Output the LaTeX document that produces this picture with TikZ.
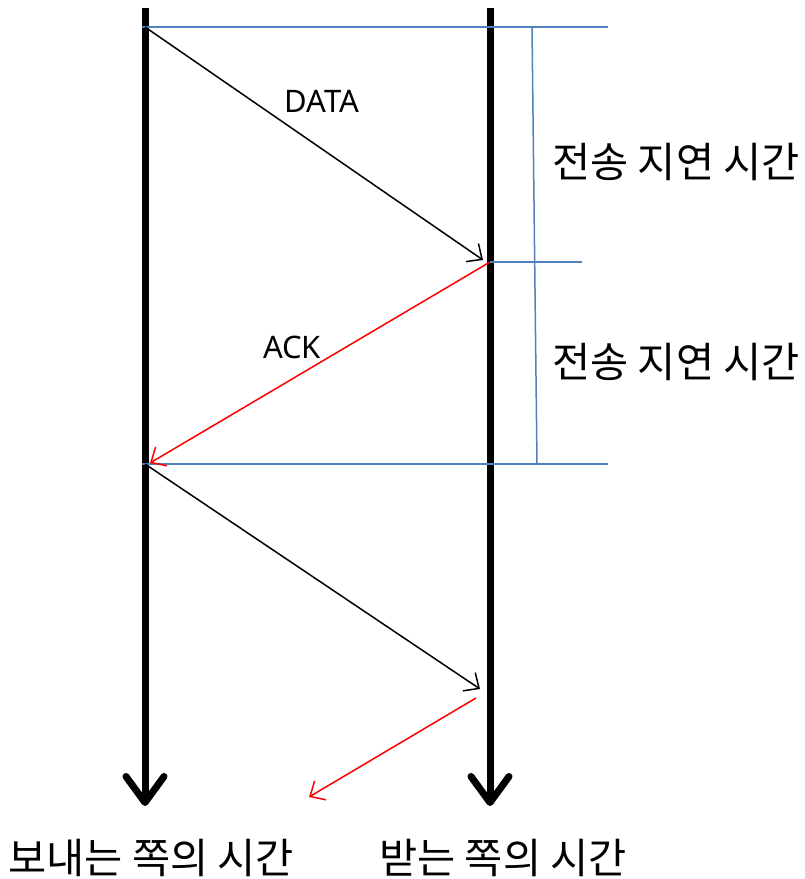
\documentclass[tikz,border=0pt]{standalone}
\usepackage{fontspec}
\setmainfont{Noto Sans}
\newfontfamily\kr{Noto Sans CJK KR}
\usetikzlibrary{arrows.meta}
\begin{document}
\begin{tikzpicture}[x=1pt,y=-1pt,
  timeline/.style={line width=7pt,-{Straight Barb[length=26pt,width=38pt,line cap=round,line join=round]}},
  msg/.style={line width=1.5pt,-{Straight Barb[length=12pt,width=22pt]}},
  guide/.style={line width=1.5pt, color={rgb,255:red,79;green,129;blue,189}},
  lbl/.style={font=\fontsize{31}{36}\selectfont},
  krl/.style={font=\kr\fontsize{41.5}{47}\selectfont}]
\useasboundingbox (0,0) rectangle (805,879);
% coordinates
\coordinate (sT) at (145,8);
\coordinate (sB) at (145,806);
\coordinate (rT) at (490,8);
\coordinate (rB) at (490,806);
\coordinate (s1) at (145,27);
\coordinate (r1) at (483,260);
\coordinate (r1b) at (490,262);
\coordinate (s2) at (150,463);
\coordinate (s2b) at (145,464);
\coordinate (r2) at (480,689);
\coordinate (r3) at (476,698);
\coordinate (e3) at (309,797);
\coordinate (gA) at (142,27);
\coordinate (gAe) at (608,27);
\coordinate (gB) at (490,262);
\coordinate (gBe) at (582,262);
\coordinate (gC) at (142,464);
\coordinate (gCe) at (608,464);
\coordinate (vT) at (532,27);
\coordinate (vB) at (537,464);
% timelines
\draw[timeline] (sT) -- (sB);
\draw[timeline] (rT) -- (rB);
% blue guides
\draw[guide] (gA) -- (gAe);
\draw[guide] (gB) -- (gBe);
\draw[guide] (gC) -- (gCe);
\draw[guide] (vT) -- (vB);
% messages
\draw[msg,black] (s1) -- (r1);
\draw[msg,red] (r1b) -- (s2);
\draw[msg,black] (s2b) -- (r2);
\draw[msg,red] (r3) -- (e3);
% labels
\node[lbl] (data) at (322,101) {DATA};
\node[lbl] (ack) at (292,347) {ACK};
\node[krl,anchor=west,inner sep=0pt] (d1) at (552,162) {전송 지연 시간};
\node[krl,anchor=west,inner sep=0pt] (d2) at (552,362) {전송 지연 시간};
\node[krl,anchor=west,inner sep=0pt] (sl) at (8,858) {보내는 쪽의 시간};
\node[krl,anchor=west,inner sep=0pt] (rl) at (379,858) {받는 쪽의 시간};
\end{tikzpicture}
\end{document}
